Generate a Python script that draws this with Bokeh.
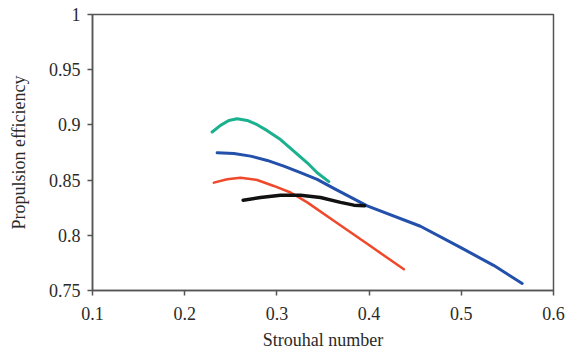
from bokeh.plotting import figure
from bokeh.models import FixedTicker
from bokeh.embed import file_html
from bokeh.resources import INLINE

# Data
green_x = [0.2298, 0.2388, 0.2478, 0.2569, 0.2678, 0.2786, 0.2895, 0.3039, 0.3183, 0.3329, 0.3437, 0.3563]
green_y = [0.8936, 0.8996, 0.9040, 0.9056, 0.9040, 0.9002, 0.8948, 0.8867, 0.8762, 0.8657, 0.8567, 0.8486]

blue_x = [0.2352, 0.2533, 0.2714, 0.2895, 0.3075, 0.3256, 0.3437, 0.3617, 0.3979, 0.4557, 0.4990, 0.5350, 0.5660]
blue_y = [0.8747, 0.8741, 0.8717, 0.8678, 0.8627, 0.8567, 0.8507, 0.8425, 0.8267, 0.8082, 0.7890, 0.7728, 0.7563]

red_x = [0.2316, 0.2461, 0.2605, 0.2786, 0.2966, 0.3148, 0.3329, 0.3617, 0.3979, 0.4377]
red_y = [0.8477, 0.8507, 0.8522, 0.8501, 0.8447, 0.8388, 0.8298, 0.8132, 0.7923, 0.7692]

black_x = [0.2634, 0.2822, 0.3039, 0.3256, 0.3473, 0.3690, 0.3834, 0.3950]
black_y = [0.8318, 0.8343, 0.8363, 0.8363, 0.8343, 0.8298, 0.8273, 0.8267]

x_ticks = [0.1, 0.2, 0.3, 0.4, 0.5, 0.6]
x_labels = ["0.1", "0.2", "0.3", "0.4", "0.5", "0.6"]
y_ticks = [0.75, 0.8, 0.85, 0.9, 0.95, 1.0]
y_labels = ["0.75", "0.8", "0.85", "0.9", "0.95", "1"]

p = figure(width=565, height=352, output_backend="svg", toolbar_location=None,
           x_range=(0.1, 0.6), y_range=(0.75, 1.0))
p.min_border_left = 92
p.min_border_top = 14
p.min_border_right = 12
p.min_border_bottom = 60

p.line(green_x, green_y, line_color="#1bb08e", line_width=3, line_join="round", line_cap="round")
p.line(blue_x, blue_y, line_color="#2250aa", line_width=3, line_join="round", line_cap="round")
p.line(red_x, red_y, line_color="#f0482a", line_width=2.5, line_join="round", line_cap="round")
p.line(black_x, black_y, line_color="#111111", line_width=3.5, line_join="round", line_cap="round")

p.xgrid.visible = False
p.ygrid.visible = False
p.outline_line_color = "#555555"
p.outline_line_width = 1.5
p.background_fill_color = "white"
p.border_fill_color = "white"

p.xaxis.ticker = FixedTicker(ticks=x_ticks)
p.yaxis.ticker = FixedTicker(ticks=y_ticks)
p.xaxis.major_label_overrides = dict(zip(x_ticks, x_labels))
p.yaxis.major_label_overrides = dict(zip(y_ticks, y_labels))

for ax in (p.xaxis, p.yaxis):
    ax.axis_line_color = "#555555"
    ax.axis_line_width = 1.5
    ax.major_tick_line_color = "#555555"
    ax.major_tick_line_width = 1.5
    ax.major_tick_out = 5
    ax.major_tick_in = 0
    ax.minor_tick_line_color = None
    ax.major_label_text_font = "Liberation Serif"
    ax.major_label_text_font_size = "18px"
    ax.major_label_text_color = "#2a2a2a"
    ax.axis_label_text_font = "Liberation Serif"
    ax.axis_label_text_font_size = "18px"
    ax.axis_label_text_font_style = "normal"
    ax.axis_label_text_color = "#2a2a2a"

p.xaxis.axis_label = "Strouhal number"
p.yaxis.axis_label = "Propulsion efficiency"
p.xaxis.major_label_standoff = 11
p.yaxis.major_label_standoff = 7
p.xaxis.axis_label_standoff = 7
p.yaxis.axis_label_standoff = 17

open("out.html", "w").write(file_html(p, INLINE))
